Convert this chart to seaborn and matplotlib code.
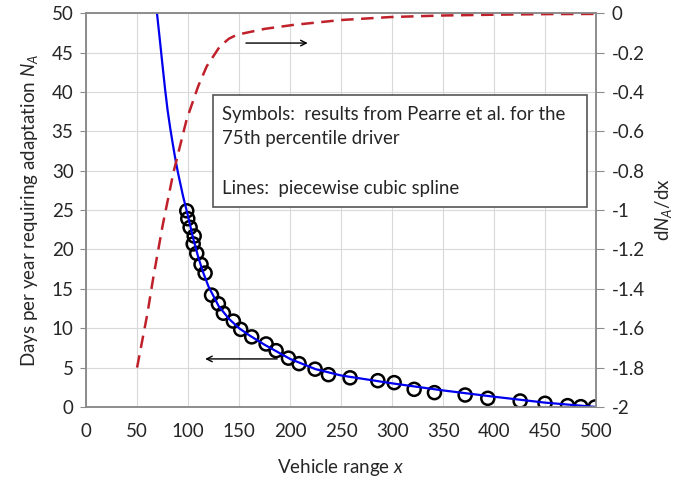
import numpy as np
import matplotlib
matplotlib.use("Agg")
import matplotlib.pyplot as plt
import matplotlib.patches as mpatches
import seaborn as sns
import pandas as pd

# --- data ---
# symbols: results from Pearre et al. (75th percentile driver)
sym_x = [98.7, 99.7, 102, 106, 105, 108.5, 112.7, 116.7, 123, 129.7, 134.6, 144.4,
         151.6, 162.4, 176.5, 186.3, 198.4, 208.8, 224.5, 237.6, 258.8, 286, 302,
         321.6, 341.5, 371.6, 393.8, 425.5, 449.9, 472, 485, 499]
sym_y = [24.9, 23.9, 22.8, 21.7, 20.7, 19.5, 18.1, 17.0, 14.2, 13.1, 11.9, 10.9,
         9.85, 8.9, 8.0, 7.15, 6.2, 5.5, 4.8, 4.1, 3.7, 3.34, 3.09,
         2.24, 1.82, 1.52, 1.10, 0.76, 0.47, 0.17, 0.04, 0.0]

# spline N_A(x)
spl_x = [69.5, 72.5, 75, 77.5, 80, 82.5, 85, 87.5, 90, 95, 100, 105, 110, 115, 120,
         130, 140, 150, 160, 175, 200, 225, 250, 300, 350, 400, 450, 500]
spl_y = [50, 46.4, 43.3, 40.3, 37.6, 35.4, 33.4, 31.5, 29.8, 26.8, 24.2, 21.4, 19.0,
         17.0, 15.3, 12.8, 11.2, 10.0, 9.1, 7.9, 6.1, 4.8, 4.0, 3.0, 2.1, 1.3, 0.55, 0.0]

# derivative dN_A/dx
der_x = [50, 60, 66, 75, 85.6, 98.6, 110, 118.3, 131, 140, 147.7, 175, 203, 250,
         298, 350, 400, 450, 500]
der_y = [-1.8, -1.53, -1.34, -1.08, -0.81, -0.54, -0.37, -0.27, -0.17, -0.13, -0.11,
         -0.08, -0.06, -0.035, -0.02, -0.012, -0.008, -0.005, -0.004]

x_ticks = list(range(0, 501, 50))
left_ticks = list(range(0, 51, 5))
right_ticks = [-2, -1.8, -1.6, -1.4, -1.2, -1, -0.8, -0.6, -0.4, -0.2, 0]

sns.set_style("whitegrid", {"grid.color": "#d9d9d9", "axes.edgecolor": "#8c8c8c"})
plt.rcParams["font.family"] = ["Lato", "DejaVu Sans"]
plt.rcParams["mathtext.fontset"] = "custom"
plt.rcParams["mathtext.rm"] = "Lato"
plt.rcParams["mathtext.it"] = "Lato:italic"
plt.rcParams["axes.unicode_minus"] = False

fig = plt.figure(figsize=(6.94, 4.86), dpi=100)
ax = fig.add_axes([0.124, 0.1626, 0.735, 0.8104])
ax2 = ax.twinx()

sym = pd.DataFrame({"x": sym_x, "y": sym_y})
spl = pd.DataFrame({"x": spl_x, "y": spl_y})
der = pd.DataFrame({"x": der_x, "y": der_y})

sns.scatterplot(data=sym, x="x", y="y", ax=ax, marker="o", s=88,
                facecolor="none", edgecolor="black", linewidth=1.8, zorder=3)
sns.lineplot(data=spl, x="x", y="y", ax=ax, color="#0000ee", lw=1.6, zorder=4,
             sort=False)
sns.lineplot(data=der, x="x", y="y", ax=ax2, color="#c0202a", lw=1.8,
             dashes=False, sort=False)
ax2.lines[0].set_dashes([5, 3])

ax.set_xlim(0, 500)
ax.set_ylim(0, 50)
ax2.set_ylim(-2, 0)
ax.set_xticks(x_ticks)
ax.set_yticks(left_ticks)
ax2.set_yticks(right_ticks)
ax2.set_yticklabels([f"{v:g}" for v in right_ticks])
ax2.grid(False)

fs = 13.5
ax.tick_params(axis="y", left=True, length=4, color="#8c8c8c", labelsize=fs, pad=5)
ax.tick_params(axis="x", bottom=False, labelsize=fs, pad=8)
ax2.tick_params(axis="y", right=True, length=6, color="#8c8c8c", labelsize=fs, pad=5)

ax.set_xlabel("Vehicle range $\\mathit{x}$", fontsize=13.5, labelpad=12)
ax.set_ylabel("Days per year requiring adaptation $\\mathit{N}_{\\mathit{A}}$", fontsize=13.5,
              labelpad=8)
ax2.set_ylabel("d$\\mathit{N}_{\\mathit{A}}$/dx", fontsize=13.5, labelpad=6)

for a in (ax, ax2):
    for s in a.spines.values():
        s.set_color("#8c8c8c")
        s.set_linewidth(1.2)

# pointer arrows
ax.annotate("", xy=(220, 46.2), xytext=(154, 46.2),
            arrowprops=dict(arrowstyle="->", color="black", lw=1))
ax.annotate("", xy=(114, 6.1), xytext=(190, 6.1),
            arrowprops=dict(arrowstyle="->", color="black", lw=1))

# note box
box = mpatches.Rectangle((0.249, 0.508), 0.733, 0.284, transform=ax.transAxes,
                         facecolor="white", edgecolor="#555555", lw=1.2, zorder=5)
ax.add_patch(box)
ax.text(0.267, 0.765,
        "Symbols:  results from Pearre et al. for the\n75th percentile driver\n\nLines:  piecewise cubic spline",
        transform=ax.transAxes, va="top", ha="left", fontsize=13.4,
        linespacing=1.55, zorder=6)

fig.savefig("out.png", dpi=100)
plt.close(fig)
